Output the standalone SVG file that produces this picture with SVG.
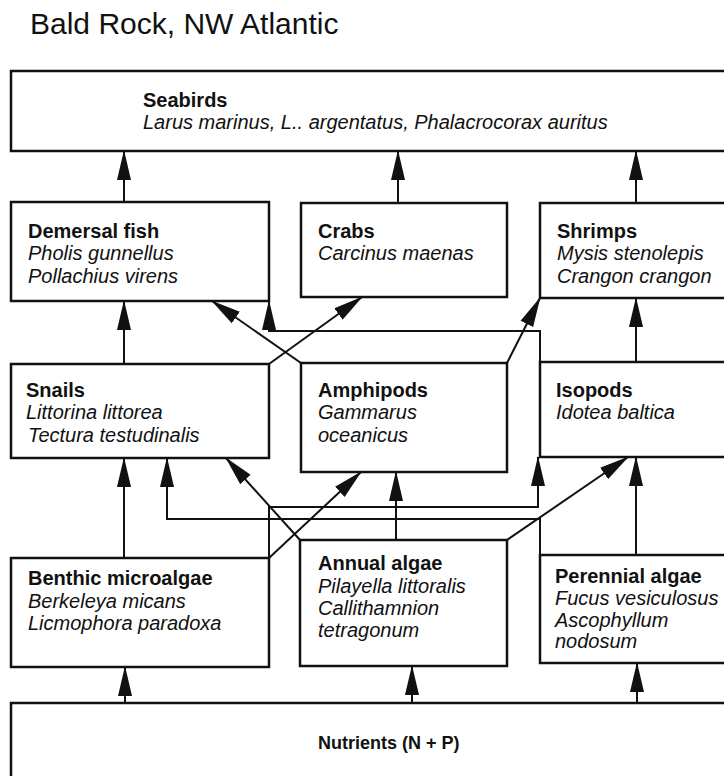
<svg xmlns="http://www.w3.org/2000/svg" width="724" height="776" viewBox="0 0 724 776">
<style>
.box{fill:#fff;stroke:#111;stroke-width:2.5}
.con{fill:none;stroke:#111;stroke-width:2;marker-end:url(#ah)}
text{font-family:"Liberation Sans",Arial,Helvetica,sans-serif;fill:#111}
.t{font-size:20px;font-weight:bold}
.s{font-size:20px;font-style:italic}
.title{font-size:30px}
.n{font-size:18px;font-weight:bold}
</style>
<defs>
<marker id="ah" markerUnits="userSpaceOnUse" viewBox="0 0 30 15" refX="29" refY="7.5" markerWidth="30" markerHeight="15" orient="auto">
<path d="M0,0.5 L30,7.5 L0,14.5 Z" fill="#111"/>
</marker>
</defs>
<rect width="724" height="776" fill="#fff"/>
<text class="title" x="30" y="34">Bald Rock, NW Atlantic</text>

<g id="connectors">
<path class="con" d="M124,202 V151"/>
<path class="con" d="M398,203 V151"/>
<path class="con" d="M636,203 V151"/>
<path class="con" d="M124,364 V301"/>
<path class="con" d="M269,364 L362,297"/>
<path class="con" d="M301,363 L212,301"/>
<path class="con" d="M540,362 V331 H269 V301"/>
<path class="con" d="M507,363 L540,298"/>
<path class="con" d="M636,362 V298"/>
<path class="con" d="M124,558 V458"/>
<path class="con" d="M540,555 V519 H167 V458"/>
<path class="con" d="M300,540 L226,458"/>
<path class="con" d="M269,558 L361,472"/>
<path class="con" d="M396,540 V472"/>
<path class="con" d="M269,558 V507 H538 V457"/>
<path class="con" d="M507,540 L628,457"/>
<path class="con" d="M636,555 V457"/>
<path class="con" d="M125,703 V667"/>
<path class="con" d="M412,703 V666"/>
<path class="con" d="M637,703 V663"/>
</g>

<g id="seabirds">
<rect class="box" x="11" y="71" width="760" height="80"/>
<text class="t" x="143" y="107">Seabirds</text>
<text class="s" x="143" y="129">Larus marinus, L.. argentatus, Phalacrocorax auritus</text>
</g>
<g id="demersal-fish">
<rect class="box" x="11" y="202" width="258" height="99"/>
<text class="t" x="28" y="238">Demersal fish</text>
<text class="s" x="28" y="260">Pholis gunnellus</text>
<text class="s" x="28" y="283">Pollachius virens</text>
</g>
<g id="crabs">
<rect class="box" x="301" y="203" width="206" height="94"/>
<text class="t" x="318" y="238">Crabs</text>
<text class="s" x="318" y="260">Carcinus maenas</text>
</g>
<g id="shrimps">
<rect class="box" x="540" y="203" width="220" height="95"/>
<text class="t" x="557" y="238">Shrimps</text>
<text class="s" x="557" y="260">Mysis stenolepis</text>
<text class="s" x="557" y="283">Crangon crangon</text>
</g>
<g id="snails">
<rect class="box" x="11" y="364" width="258" height="94"/>
<text class="t" x="26" y="397">Snails</text>
<text class="s" x="26" y="419">Littorina littorea</text>
<text class="s" x="28" y="442">Tectura testudinalis</text>
</g>
<g id="amphipods">
<rect class="box" x="301" y="363" width="206" height="109"/>
<text class="t" x="318" y="397">Amphipods</text>
<text class="s" x="318" y="419">Gammarus</text>
<text class="s" x="318" y="442">oceanicus</text>
</g>
<g id="isopods">
<rect class="box" x="540" y="362" width="220" height="95"/>
<text class="t" x="556" y="397">Isopods</text>
<text class="s" x="556" y="419">Idotea baltica</text>
</g>
<g id="benthic-microalgae">
<rect class="box" x="11" y="558" width="258" height="109"/>
<text class="t" x="28" y="585">Benthic microalgae</text>
<text class="s" x="28" y="608">Berkeleya micans</text>
<text class="s" x="28" y="630">Licmophora paradoxa</text>
</g>
<g id="annual-algae">
<rect class="box" x="300" y="540" width="207" height="126"/>
<text class="t" x="318" y="570">Annual algae</text>
<text class="s" x="318" y="593">Pilayella littoralis</text>
<text class="s" x="318" y="615">Callithamnion</text>
<text class="s" x="318" y="637">tetragonum</text>
</g>
<g id="perennial-algae">
<rect class="box" x="540" y="555" width="220" height="108"/>
<text class="t" x="555" y="583">Perennial algae</text>
<text class="s" x="555" y="605">Fucus vesiculosus</text>
<text class="s" x="555" y="627">Ascophyllum</text>
<text class="s" x="555" y="648">nodosum</text>
</g>
<g id="nutrients">
<rect class="box" x="11" y="703" width="760" height="90"/>
<text class="n" x="318" y="749">Nutrients (N + P)</text>
</g>
</svg>
